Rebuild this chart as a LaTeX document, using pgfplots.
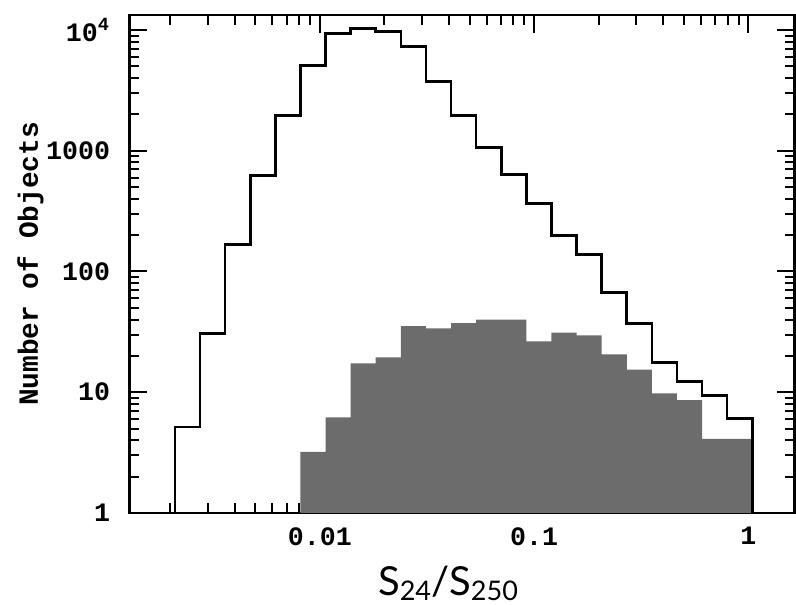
\documentclass[border=0pt]{standalone}
\usepackage{pgfplots}
\pgfplotsset{compat=1.18}
\usepackage{fontspec}
\setmainfont{Lato}
\newfontfamily\tickfont{Liberation Mono}
\definecolor{histgray}{RGB}{108,108,108}
\begin{document}
\begin{tikzpicture}
\begin{axis}[
  scale only axis, width=332.5pt, height=249pt,
  xmode=log, ymode=log,
  xmin=0.001291, xmax=1.643, ymin=1, ymax=13310,
  axis line style={line width=1.3pt},
  tick align=inside, xtick pos=both, ytick pos=both,
  xticklabel pos=lower, yticklabel pos=left,
  major tick length=9pt, minor tick length=5pt,
  every tick/.style={black, line width=1pt},
  xtick={0.01,0.1,1}, xticklabels={0.01,0.1,1},
  minor xtick={0.002,0.003,0.004,0.005,0.006,0.007,0.008,0.009,0.02,0.03,0.04,0.05,0.06,0.07,0.08,0.09,0.2,0.3,0.4,0.5,0.6,0.7,0.8,0.9},
  ytick={1,10,100,1000,10000}, yticklabels={1,10,100,1000,10\textsuperscript{4}},
  minor ytick={2,3,4,5,6,7,8,9,20,30,40,50,60,70,80,90,200,300,400,500,600,700,800,900,2000,3000,4000,5000,6000,7000,8000,9000},
  tick label style={font=\tickfont\bfseries\fontsize{13.3}{15}\selectfont},
  xticklabel style={inner sep=0pt, anchor=north, yshift=-7pt},
  yticklabel style={inner sep=0pt, anchor=east, xshift=-9.5pt},
  xlabel={{\fontsize{20}{24}\selectfont S\raisebox{-2.5pt}{\fontsize{13.5}{16}\selectfont 24}/S\raisebox{-2.5pt}{\fontsize{13.5}{16}\selectfont 250}}},
  xlabel style={at={(axis description cs:0.479,-0.166)}, anchor=base, inner sep=0pt},
  ylabel={Number of Objects},
  ylabel style={font=\tickfont\bfseries\fontsize{13.9}{16}\selectfont, at={(axis description cs:-0.149,0.5)}, anchor=center, inner sep=0pt},
]
\coordinate (sw) at (rel axis cs:0,0);
\coordinate (ne) at (rel axis cs:1,1);
\addplot[const plot, fill=histgray, draw=none] coordinates {
(0.008110,1) (0.008110,3.2) (0.010622,6.2) (0.013911,17.3) (0.018220,19.4)
(0.023862,35.3) (0.031261,33.8) (0.040944,37.4) (0.053617,40) (0.070226,40)
(0.091991,26.4) (0.12050,31.2) (0.15783,29.6) (0.20672,20.6) (0.27074,15.4)
(0.35465,9.8) (0.46452,8.6) (0.60842,4.1) (0.79696,4.1) (1.0438,4.1) (1.0438,1)};
\addplot[const plot, black, line width=1.3pt] coordinates {
(0.002104,1) (0.002104,5.15) (0.002755,30.7) (0.003608,168) (0.004726,625)
(0.006189,1960) (0.008110,5080) (0.010622,9350) (0.013911,10290) (0.018220,9720)
(0.023862,7300) (0.031261,3750) (0.040944,1960) (0.053617,1065) (0.070226,637)
(0.091991,366) (0.12050,199) (0.15783,139) (0.20672,67) (0.27074,37.2)
(0.35465,17.7) (0.46452,12.3) (0.60842,9.4) (0.79696,6.08) (1.0438,6.08) (1.0438,1)};
\end{axis}
\path ([shift={(-64.75pt,-46pt)}]sw) rectangle ([shift={(0.75pt,7.5pt)}]ne);
\end{tikzpicture}
\end{document}
